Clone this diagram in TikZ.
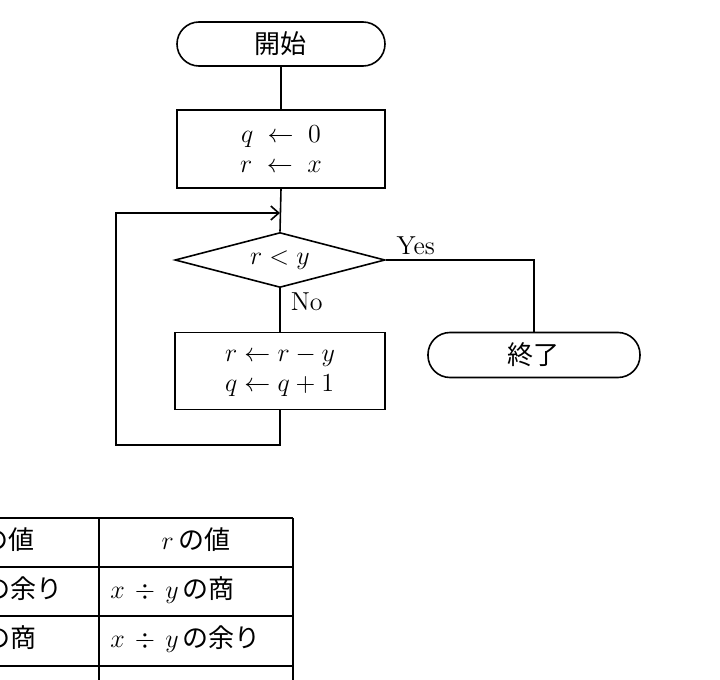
\RequirePackage{fix-cm}
\documentclass[tikz,border=0pt]{standalone}
\usepackage{amsmath}
\usepackage{fontspec}
\usepackage{tikz}
\usetikzlibrary{arrows.meta,calc,positioning,shapes.geometric}
\newfontfamily\jp{Noto Sans CJK JP}
\tikzset{term/.style={rounded corners=11pt,draw,line width=.8pt,minimum height=22pt,inner sep=0pt,align=center},proc/.style={draw,line width=.8pt,inner sep=0pt,align=center},decision/.style={diamond,aspect=3.8,draw,line width=.8pt,inner sep=0pt,minimum width=105pt,minimum height=27.5pt},line/.style={line width=.8pt},flow/.style={-{Straight Barb[length=4pt,width=7pt]},line width=.8pt},cell/.style={inner sep=0pt,anchor=base west}}
\begin{document}
\begin{tikzpicture}[x=.5pt,y=-.5pt,every node/.style={font=\fontsize{13pt}{15pt}\selectfont}]
      \useasboundingbox (0,0) rectangle (720,680);
      \node[term,minimum width=104pt](start)at(281,44){\jp 開始};
      \node[proc,minimum width=104pt,minimum height=39pt](init)at(281,149){$q\;\leftarrow\;0$\\$r\;\leftarrow\;x$};
      \node[decision](test)at(280,260){$r<y$};
      \node[proc,minimum width=105pt,minimum height=38.5pt](loop)at(280,371){$\begin{array}{@{}l@{}}r\leftarrow r-y\\q\leftarrow q+1\end{array}$};
      \node[term,minimum width=106pt,minimum height=22.5pt](stop)at(534,355){\jp 終了};
      \coordinate(join)at(280,213);
      \coordinate(back)at(116,445);
      \draw[line](start)--(init);
      \draw[line](init.south)--(test.north);
      \draw[line](test.east)-|node[pos=0,anchor=south west,inner sep=2pt,xshift=3pt]{Yes}(stop.north);
      \draw[line](test.south)--node[pos=0,anchor=north west,inner sep=2pt,xshift=3pt]{No}(loop.north);
      \draw[flow](loop.south)|-(back)|-(join);
      % table of results
      \begin{scope}
        \clip(0,0)rectangle(720,680);
        \foreach \y in {518,567,616,666}\draw[line](-110,\y)--(293,\y);
        \foreach \x in {99,293}\draw[line](\x,518)--(\x,700);
        \node[anchor=base](h1)at(0,550){$q$\,{\jp の値}};
        \node[anchor=base](h2)at(196,550){$r$\,{\jp の値}};
        \node[anchor=base east](a1)at(70,599){$x\,\div\,y$\,{\jp の余り}};
        \node[cell](b1)at(110,599){$x\,\div\,y$\,{\jp の商}};
        \node[anchor=base east](a2)at(44,648){$x\,\div\,y$\,{\jp の商}};
        \node[cell](b2)at(110,648){$x\,\div\,y$\,{\jp の余り}};
      \end{scope}
    \end{tikzpicture}
\end{document}
